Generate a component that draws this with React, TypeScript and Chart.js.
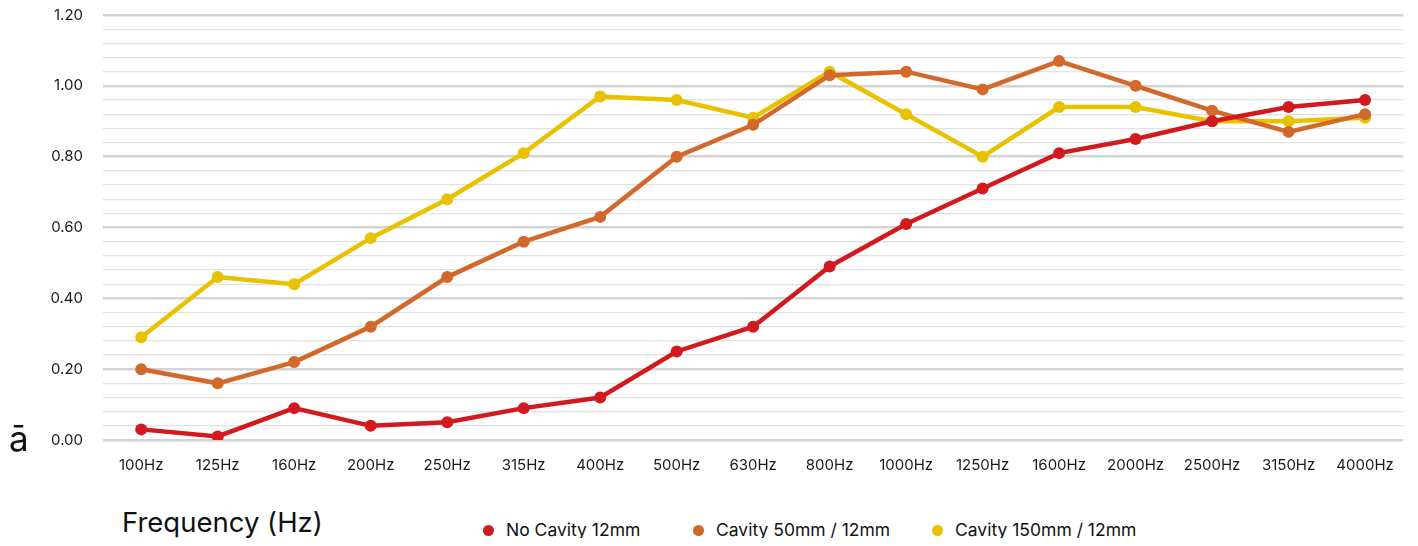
import React, { useEffect, useRef } from "react";
import { Chart, registerables } from "chart.js";

Chart.register(...registerables);

const categories = ["100Hz", "125Hz", "160Hz", "200Hz", "250Hz", "315Hz", "400Hz", "500Hz", "630Hz", "800Hz", "1000Hz", "1250Hz", "1600Hz", "2000Hz", "2500Hz", "3150Hz", "4000Hz"];
const noCavity = [0.03, 0.01, 0.09, 0.04, 0.05, 0.09, 0.12, 0.25, 0.32, 0.49, 0.61, 0.71, 0.81, 0.85, 0.9, 0.94, 0.96];
const cavity50 = [0.2, 0.16, 0.22, 0.32, 0.46, 0.56, 0.63, 0.8, 0.89, 1.03, 1.04, 0.99, 1.07, 1.0, 0.93, 0.87, 0.92];
const cavity150 = [0.29, 0.46, 0.44, 0.57, 0.68, 0.81, 0.97, 0.96, 0.91, 1.04, 0.92, 0.8, 0.94, 0.94, 0.9, 0.9, 0.91];
const seriesNames = ["No Cavity 12mm", "Cavity 50mm / 12mm", "Cavity 150mm / 12mm"];
const seriesColors = ["#d2191e", "#d2682a", "#e8c200"];

const FONT = "Inter, 'Noto Sans', sans-serif";

const isMajor = (v: number) => Math.abs(v * 5 - Math.round(v * 5)) < 1e-6;

export default function App() {
  const canvasRef = useRef<HTMLCanvasElement | null>(null);

  useEffect(() => {
    if (!canvasRef.current) return;
    const allSeries = [noCavity, cavity50, cavity150];
    const chart = new Chart(canvasRef.current, {
      type: "line",
      data: {
        labels: categories,
        datasets: allSeries.map((d, i) => ({
          label: seriesNames[i],
          data: d,
          borderColor: seriesColors[i],
          backgroundColor: seriesColors[i],
          pointBackgroundColor: seriesColors[i],
          pointBorderWidth: 0,
          pointRadius: 6,
          borderWidth: 4.5,
          tension: 0,
          fill: false,
        })),
      },
      options: {
        animation: false,
        responsive: true,
        maintainAspectRatio: false,
        layout: { padding: { left: 20, right: 4, top: 0, bottom: 0 } },
        plugins: {
          legend: { display: false },
          tooltip: { enabled: false },
        },
        scales: {
          x: {
            offset: true,
            grid: { display: false, drawTicks: false },
            border: { display: false },
            ticks: {
              color: "#1a1a1a",
              font: { family: FONT, size: 15 },
              padding: 16,
              autoSkip: false,
              maxRotation: 0,
            },
            afterFit: (scale: any) => {
              scale.height = 35;
            },
          },
          y: {
            min: 0,
            max: 1.2,
            grid: {
              drawTicks: false,
              color: (ctx: any) => (ctx.tick && isMajor(ctx.tick.value) ? "#d4d4d4" : "#e2e2e2"),
              lineWidth: (ctx: any) => (ctx.tick && isMajor(ctx.tick.value) ? 2.5 : 1.2),
            },
            border: { display: false },
            ticks: {
              stepSize: 0.04,
              autoSkip: false,
              color: "#1a1a1a",
              font: { family: FONT, size: 15 },
              padding: 20,
              callback: (v: any) => (isMajor(Number(v)) ? Number(v).toFixed(2) : ""),
            },
            afterFit: (scale: any) => {
              scale.width = 75;
            },
          },
        },
      },
    });
    return () => chart.destroy();
  }, []);

  return (
    <div style={{ position: "relative", width: 1402, height: 530, fontFamily: FONT }}>
      <div style={{ position: "absolute", left: 0, top: -22, width: 1402, height: 489 }}>
        <canvas ref={canvasRef} />
      </div>
      <div
        style={{
          position: "absolute",
          left: 1,
          top: 413,
          fontSize: 35,
          lineHeight: "35px",
          color: "#111",
        }}
      >
        ā
      </div>
      <div
        style={{
          position: "absolute",
          left: 114,
          top: 499,
          fontSize: 27.5,
          lineHeight: "30px",
          color: "#111",
          whiteSpace: "nowrap",
        }}
      >
        Frequency (Hz)
      </div>
      {seriesNames.map((name, i) => {
        const circleX = [481, 691, 930][i];
        return (
          <div key={name} style={{ position: "absolute", left: circleX - 6, top: 510, height: 24, display: "flex", alignItems: "center", whiteSpace: "nowrap" }}>
            <span style={{ display: "inline-block", width: 11, height: 11, borderRadius: "50%", background: seriesColors[i], marginRight: 12 }} />
            <span style={{ fontSize: 17.5, lineHeight: "22px", color: "#111" }}>{name}</span>
          </div>
        );
      })}
    </div>
  );
}
